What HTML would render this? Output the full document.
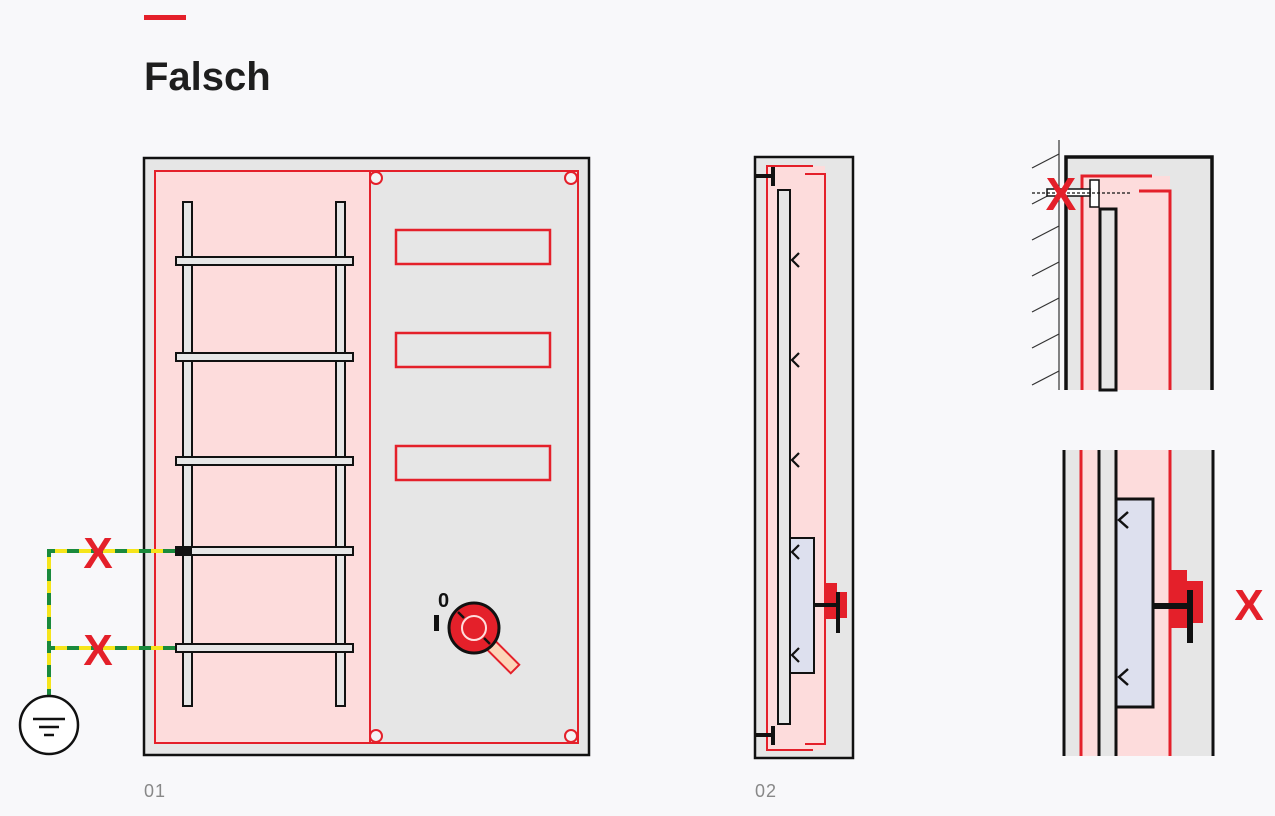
<!DOCTYPE html>
<html><head><meta charset="utf-8"><style>
html,body{margin:0;padding:0;background:#f8f8fa;}
svg{display:block;}
</style></head><body>
<svg width="1275" height="816" viewBox="0 0 1275 816" xmlns="http://www.w3.org/2000/svg" font-family="Liberation Sans, sans-serif">
<rect width="1275" height="816" fill="#f8f8fa"/>
<rect x="144" y="15" width="42" height="5" fill="#e4202a"/>
<text x="144" y="90" font-size="40" font-weight="bold" fill="#1e1e1e">Falsch</text>

<!-- Panel 1 -->
<rect x="144" y="158" width="445" height="597" fill="#e6e6e6" stroke="#111" stroke-width="2.5"/>
<rect x="155" y="171" width="215" height="572" fill="#fddcdc"/>
<rect x="155" y="171" width="423" height="572" fill="none" stroke="#e4202a" stroke-width="2"/>
<line x1="370" y1="171" x2="370" y2="743" stroke="#e4202a" stroke-width="2"/>
<g fill="#f4f4f4" stroke="#e4202a" stroke-width="2">
<circle cx="376" cy="178" r="6"/><circle cx="571" cy="178" r="6"/>
<circle cx="376" cy="736" r="6"/><circle cx="571" cy="736" r="6"/>
</g>
<g fill="#e6e6e6" stroke="#111" stroke-width="2">
<rect x="183" y="202" width="9" height="504"/>
<rect x="336" y="202" width="9" height="504"/>
<rect x="176" y="257" width="177" height="8"/>
<rect x="176" y="353" width="177" height="8"/>
<rect x="176" y="457" width="177" height="8"/>
<rect x="176" y="547" width="177" height="8"/>
<rect x="176" y="644" width="177" height="8"/>
</g>
<rect x="175" y="546" width="17" height="10" fill="#111"/>
<g fill="none" stroke="#e4202a" stroke-width="2.5">
<rect x="396" y="230" width="154" height="34"/>
<rect x="396" y="333" width="154" height="34"/>
<rect x="396" y="446" width="154" height="34"/>
</g>
<!-- switch -->
<g transform="rotate(45 474 628)"><rect x="494" y="622" width="38" height="12" fill="#fdd5b8" stroke="#e4202a" stroke-width="2"/></g>
<circle cx="474" cy="628" r="25" fill="#e4202a" stroke="#111" stroke-width="3"/>
<circle cx="474" cy="628" r="12" fill="#e4202a" stroke="#fdd" stroke-width="2"/>
<line x1="458" y1="612" x2="464" y2="618" stroke="#111" stroke-width="2.5"/>
<line x1="484" y1="638" x2="490" y2="644" stroke="#111" stroke-width="2.5"/>
<text x="438" y="607" font-size="20" font-weight="bold" fill="#111">0</text>
<rect x="434" y="615" width="5" height="16" fill="#111"/>
<!-- ground wires -->
<g fill="none" stroke-width="4">
<path d="M175 551 H49 V697" stroke="#f6e51b"/>
<path d="M175 648 H49" stroke="#f6e51b"/>
<path d="M175 551 H49 V697" stroke="#1a8a3c" stroke-dasharray="12 12"/>
<path d="M175 648 H49" stroke="#1a8a3c" stroke-dasharray="12 12"/>
</g>
<circle cx="49" cy="725" r="29" fill="#fff" stroke="#111" stroke-width="2.5"/>
<g stroke="#111" stroke-width="2.5"><line x1="33" y1="719" x2="65" y2="719"/><line x1="39" y1="727" x2="59" y2="727"/><line x1="44" y1="735" x2="54" y2="735"/></g>
<g font-size="44" font-weight="bold" fill="#e4202a" text-anchor="middle">
<text x="98" y="568">X</text><text x="98" y="665">X</text>
</g>
<text x="144" y="797" font-size="18" fill="#888" letter-spacing="1">01</text>

<!-- Panel 2 -->
<rect x="755" y="157" width="98" height="601" fill="#e6e6e6" stroke="#111" stroke-width="2.5"/>
<rect x="767" y="166" width="58" height="584" fill="#fddcdc"/>
<g fill="none" stroke="#e4202a" stroke-width="2">
<path d="M813 166 H767 V750 H813"/>
<path d="M805 174 H825 V744 H805"/>
</g>
<rect x="778" y="190" width="12" height="534" fill="#e6e6e6" stroke="#111" stroke-width="2"/>
<g stroke="#111" stroke-width="4" fill="none">
<path d="M755 176 H773 M773 167 V186"/>
<path d="M755 735 H773 M773 726 V745"/>
</g>
<rect x="790" y="538" width="24" height="135" fill="#dde0ee" stroke="#111" stroke-width="2"/>
<g fill="#e4202a"><rect x="825" y="583" width="12" height="36"/><rect x="835" y="592" width="12" height="26"/></g>
<g stroke="#111" stroke-width="4"><line x1="814" y1="605" x2="838" y2="605"/><line x1="838" y1="592" x2="838" y2="633"/></g>
<g fill="none" stroke="#111" stroke-width="2.2">
<path d="M799 253 L792 260 L799 267"/><path d="M799 353 L792 360 L799 367"/><path d="M799 453 L792 460 L799 467"/><path d="M799 545 L792 552 L799 559"/><path d="M799 648 L792 655 L799 662"/>
</g>
<text x="755" y="797" font-size="18" fill="#888" letter-spacing="1">02</text>

<!-- Panel 3 top -->
<rect x="1066" y="157" width="146" height="233" fill="#e6e6e6"/>
<rect x="1082" y="176" width="88" height="214" fill="#fddcdc"/>
<line x1="1059" y1="140" x2="1059" y2="390" stroke="#333" stroke-width="1.2"/>
<g stroke="#333" stroke-width="1.2">
<line x1="1032" y1="168" x2="1059" y2="154"/><line x1="1032" y1="204" x2="1059" y2="190"/><line x1="1032" y1="240" x2="1059" y2="226"/><line x1="1032" y1="276" x2="1059" y2="262"/><line x1="1032" y1="312" x2="1059" y2="298"/><line x1="1032" y1="348" x2="1059" y2="334"/><line x1="1032" y1="385" x2="1059" y2="371"/>
</g>
<path d="M1066 390 V157 H1212 V390" fill="none" stroke="#111" stroke-width="3.5"/>
<g fill="none" stroke="#e4202a" stroke-width="3">
<path d="M1082 390 V176 H1152"/><path d="M1139 191 H1170 V390"/>
</g>
<rect x="1100" y="209" width="16" height="181" fill="#e6e6e6" stroke="#111" stroke-width="3"/>
<rect x="1090" y="180" width="9" height="27" fill="#fff" stroke="#111" stroke-width="1.5"/>
<rect x="1047" y="189" width="43" height="7" fill="#fff" stroke="#111" stroke-width="1.5"/>
<line x1="1032" y1="193" x2="1130" y2="193" stroke="#111" stroke-width="1.2" stroke-dasharray="3 2"/>
<text x="1061" y="210" font-size="46" font-weight="bold" fill="#e4202a" text-anchor="middle">X</text>

<!-- Panel 3 bottom -->
<rect x="1064" y="450" width="149" height="306" fill="#e6e6e6"/>
<rect x="1081" y="450" width="18" height="306" fill="#fddcdc"/>
<rect x="1116" y="450" width="54" height="306" fill="#fddcdc"/>
<g stroke-width="3">
<line x1="1064" y1="450" x2="1064" y2="756" stroke="#111"/>
<line x1="1081" y1="450" x2="1081" y2="756" stroke="#e4202a"/>
<line x1="1099" y1="450" x2="1099" y2="756" stroke="#111"/>
<line x1="1116" y1="450" x2="1116" y2="756" stroke="#111"/>
<line x1="1170" y1="450" x2="1170" y2="756" stroke="#e4202a"/>
<line x1="1213" y1="450" x2="1213" y2="756" stroke="#111"/>
</g>
<rect x="1116" y="499" width="37" height="208" fill="#dde0ee" stroke="#111" stroke-width="3"/>
<g fill="#e4202a"><rect x="1170" y="570" width="17" height="58"/><rect x="1186" y="581" width="17" height="42"/></g>
<g stroke="#111" stroke-width="6"><line x1="1153" y1="606" x2="1190" y2="606"/><line x1="1190" y1="590" x2="1190" y2="643"/></g>
<g fill="none" stroke="#111" stroke-width="2.5">
<path d="M1128 512 L1119 520 L1128 528"/><path d="M1128 669 L1119 677 L1128 685"/>
</g>
<text x="1249" y="620" font-size="44" font-weight="bold" fill="#e4202a" text-anchor="middle">X</text>
</svg>
</body></html>
